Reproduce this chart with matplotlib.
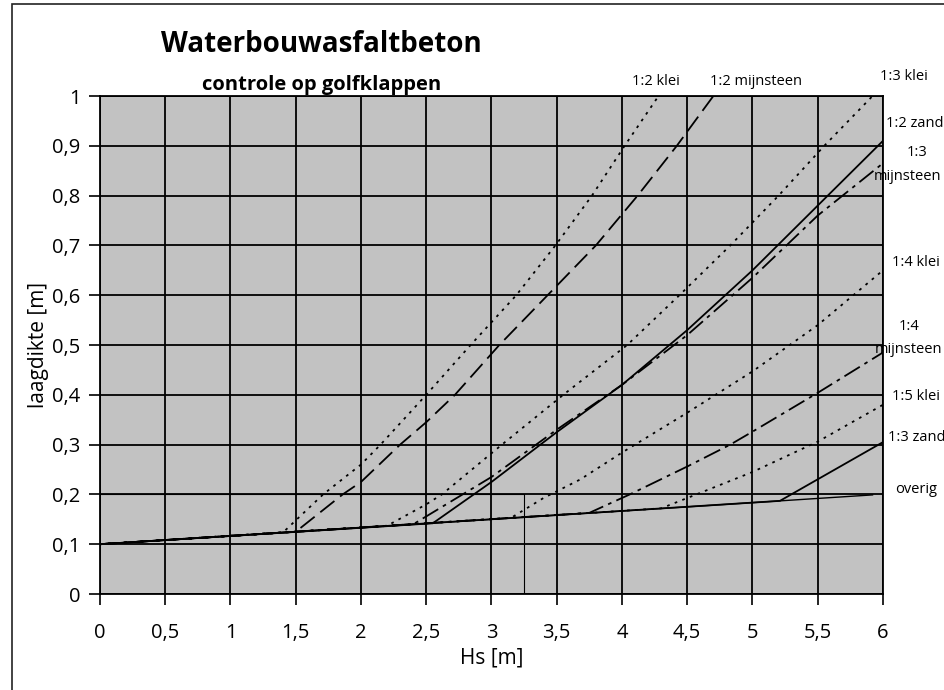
import matplotlib.pyplot as plt
from matplotlib.patches import Rectangle

# Hs [m] -> laagdikte [m]
overig_x = [0, 1.5, 3.0, 4.5, 5.92]
overig_y = [0.1, 0.125, 0.15, 0.175, 0.199]

klei_12_x = [0, 1.4, 1.71, 2.0, 2.15, 2.5, 2.84, 3.19, 3.49, 3.77, 4.02, 4.28]
klei_12_y = [0.1, 0.123, 0.2, 0.26, 0.3, 0.4, 0.5, 0.6, 0.7, 0.8, 0.9, 1.0]

mijn_12_x = [0, 1.5, 1.86, 2.0, 2.3, 2.5, 2.72, 3.06, 3.43, 3.80, 4.12, 4.42, 4.70]
mijn_12_y = [0.1, 0.125, 0.2, 0.225, 0.3, 0.345, 0.4, 0.5, 0.6, 0.7, 0.8, 0.9, 1.0]

klei_13_x = [0, 2.2, 2.5, 2.62, 3.08, 3.55, 4.04, 4.44, 4.83, 5.2, 5.55, 5.92]
klei_13_y = [0.1, 0.137, 0.18, 0.2, 0.3, 0.4, 0.5, 0.6, 0.7, 0.8, 0.9, 1.0]

zand_12_x = [0, 2.55, 3.0, 3.5, 4.0, 4.5, 5.0, 5.5, 6.0]
zand_12_y = [0.1, 0.142, 0.225, 0.325, 0.42, 0.53, 0.65, 0.78, 0.91]

mijn_13_x = [0, 2.4, 3.0, 3.5, 4.0, 4.5, 5.0, 5.5, 6.0]
mijn_13_y = [0.1, 0.14, 0.235, 0.33, 0.42, 0.52, 0.635, 0.76, 0.865]

klei_14_x = [0, 3.15, 3.4, 3.68, 4.0, 4.5, 5.0, 5.5, 6.0]
klei_14_y = [0.1, 0.153, 0.193, 0.23, 0.284, 0.364, 0.447, 0.54, 0.65]

mijn_14_x = [0, 3.75, 4.06, 4.5, 4.83, 5.0, 5.5, 6.0]
mijn_14_y = [0.1, 0.163, 0.2, 0.256, 0.3, 0.326, 0.404, 0.485]

klei_15_x = [0, 4.3, 4.57, 5.0, 5.5, 6.0]
klei_15_y = [0.1, 0.172, 0.2, 0.245, 0.306, 0.38]

zand_13_x = [0, 5.21, 6.0]
zand_13_y = [0.1, 0.187, 0.305]

# thin reference box at Hs = 3.25
ref_x = [0, 3.25, 3.25]
ref_y = [0.2, 0.2, 0]

x_ticks = [0, 0.5, 1, 1.5, 2, 2.5, 3, 3.5, 4, 4.5, 5, 5.5, 6]
y_ticks = [0, 0.1, 0.2, 0.3, 0.4, 0.5, 0.6, 0.7, 0.8, 0.9, 1]


def comma(v):
    s = ("%g" % v)
    return s.replace(".", ",")


def main():
    plt.rcParams['font.family'] = ['Open Sans', 'DejaVu Sans']

    dotted = (0, (1.5, 3))
    dashed = (0, (10, 4))
    dashdot = (0, (10, 3, 2, 3))
    lw = 1.3

    fig = plt.figure(figsize=(9.44, 6.9), dpi=100)
    ax = fig.add_axes([100 / 944, 1 - 594 / 690, 783 / 944, 498 / 690])
    ax.set_facecolor('#c2c2c2')

    # outer frame of the chart object
    fig.patches.append(Rectangle((12 / 944, -0.05), 2, 1.05 - 4 / 690,
                                 transform=fig.transFigure, fill=False,
                                 edgecolor='#222222', linewidth=1.2))

    ax.plot(overig_x, overig_y, color='black', linewidth=1.0)
    ax.plot(ref_x, ref_y, color='black', linewidth=0.8)
    ax.plot(klei_12_x, klei_12_y, color='black', linestyle=dotted, linewidth=lw)
    ax.plot(mijn_12_x, mijn_12_y, color='black', linestyle=dashed, linewidth=lw)
    ax.plot(klei_13_x, klei_13_y, color='black', linestyle=dotted, linewidth=lw)
    ax.plot(zand_12_x, zand_12_y, color='black', linewidth=lw)
    ax.plot(mijn_13_x, mijn_13_y, color='black', linestyle=dashdot, linewidth=lw)
    ax.plot(klei_14_x, klei_14_y, color='black', linestyle=dotted, linewidth=lw)
    ax.plot(mijn_14_x, mijn_14_y, color='black', linestyle=dashdot, linewidth=lw)
    ax.plot(klei_15_x, klei_15_y, color='black', linestyle=dotted, linewidth=lw)
    ax.plot(zand_13_x, zand_13_y, color='black', linewidth=lw)

    ax.set_xlim(0, 6)
    ax.set_ylim(0, 1)
    ax.set_xticks(x_ticks)
    ax.set_yticks(y_ticks)
    ax.set_xticklabels([comma(v) for v in x_ticks])
    ax.set_yticklabels([comma(v) for v in y_ticks])
    ax.tick_params(axis='both', labelsize=14.5, length=8, width=1.2, direction='out', pad=6)
    ax.tick_params(axis='x', pad=13)
    ax.grid(True, color='black', linewidth=1.3)
    ax.set_axisbelow(False)
    for s in ax.spines.values():
        s.set_color('black')
        s.set_linewidth(1.3)

    ax.set_xlabel("Hs [m]", fontsize=15, labelpad=3)
    ax.set_ylabel("laagdikte [m]", fontsize=15, labelpad=2)

    fig.text(321 / 944, 1 - 44 / 690, "Waterbouwasfaltbeton", fontsize=20,
             fontweight='bold', ha='center', va='center')
    fig.text(322 / 944, 1 - 85 / 690, "controle op golfklappen", fontsize=14.5,
             fontweight='bold', ha='center', va='center')

    labels = [
        ("1:2 klei", 4.26, 1.03, 'center'),
        ("1:2 mijnsteen", 5.03, 1.03, 'center'),
        ("1:3 klei", 5.98, 1.04, 'left'),
        ("1:2 zand", 6.02, 0.944, 'left'),
        ("1:3", 6.26, 0.887, 'center'),
        ("mijnsteen", 6.45, 0.839, 'right'),
        ("1:4 klei", 6.07, 0.666, 'left'),
        ("1:4", 6.2, 0.537, 'center'),
        ("mijnsteen", 5.94, 0.491, 'left'),
        ("1:5 klei", 6.07, 0.396, 'left'),
        ("1:3 zand", 6.04, 0.314, 'left'),
        ("overig", 6.09, 0.209, 'left'),
    ]
    for txt, x, y, ha in labels:
        ax.text(x, y, txt, fontsize=10.5, ha=ha, va='center', clip_on=False)

    fig.savefig("out.png", dpi=100)


if __name__ == "__main__":
    main()
